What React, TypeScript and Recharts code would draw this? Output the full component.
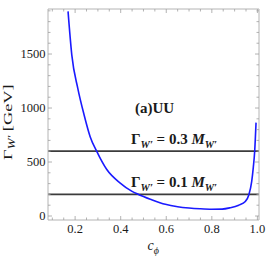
import React from 'react';
import { LineChart, Line, XAxis, YAxis, ReferenceLine, Label } from 'recharts';

const cPhi = [0.169, 0.1855, 0.212, 0.239, 0.266, 0.295, 0.339, 0.398, 0.448, 0.478, 0.53, 0.596, 0.65, 0.7, 0.748, 0.8, 0.845, 0.88, 0.918, 0.947, 0.963, 0.975, 0.982, 0.988, 0.994];
const widthGeV = [1895, 1490, 1180, 940, 735, 598, 430, 305, 230, 200, 156, 108, 86, 74, 67, 63, 64, 76, 100, 135, 200, 320, 450, 598, 865];

const thresholdValues = [600, 200];
const thresholdRatios = ['0.3', '0.1'];

const xTicks = [0.1, 0.15, 0.2, 0.25, 0.3, 0.35, 0.4, 0.45, 0.5, 0.55, 0.6, 0.65, 0.7, 0.75, 0.8, 0.85, 0.9, 0.95, 1.0];
const xMajor = [0.2, 0.4, 0.6, 0.8, 1.0];
const yTicks = [0, 100, 200, 300, 400, 500, 600, 700, 800, 900, 1000, 1100, 1200, 1300, 1400, 1500, 1600, 1700, 1800, 1900];
const yMajor = [0, 500, 1000, 1500];

const data = cPhi.map((c, i) => ({ c, g: widthGeV[i] }));

const X_DOMAIN = [0.081, 1.007];
const Y_DOMAIN = [-37, 1917];

const FONT = "'Liberation Serif', 'Times New Roman', serif";
const FRAME = '#b4b4b4';
const TICK = '#a0a0a0';
const TEXT = '#1a1a1a';

const isMajor = (v: number, list: number[]) => list.some((m) => Math.abs(m - v) < 1e-6);

const BottomTick = (p: any) => {
  const major = isMajor(p.payload.value, xMajor);
  return (
    <g>
      <line x1={p.x} x2={p.x} y1={p.y} y2={p.y - (major ? 4 : 2.5)} stroke={TICK} strokeWidth={0.8} />
      {major && (
        <text x={p.x} y={p.y + 12.5} textAnchor="middle" style={{ fontFamily: FONT, fontSize: 12.5 }} fill={TEXT}>
          {p.payload.value.toFixed(1)}
        </text>
      )}
    </g>
  );
};

const TopTick = (p: any) => {
  const major = isMajor(p.payload.value, xMajor);
  return <line x1={p.x} x2={p.x} y1={p.y} y2={p.y + (major ? 4 : 2.5)} stroke={TICK} strokeWidth={0.8} />;
};

const LeftTick = (p: any) => {
  const major = isMajor(p.payload.value, yMajor);
  return (
    <g>
      <line x1={p.x} x2={p.x + (major ? 4 : 2.5)} y1={p.y} y2={p.y} stroke={TICK} strokeWidth={0.8} />
      {major && (
        <text x={p.x - 2.5} y={p.y} dy="0.33em" textAnchor="end" style={{ fontFamily: FONT, fontSize: 12.5 }} fill={TEXT}>
          {p.payload.value}
        </text>
      )}
    </g>
  );
};

const RightTick = (p: any) => {
  const major = isMajor(p.payload.value, yMajor);
  return <line x1={p.x} x2={p.x - (major ? 4 : 2.5)} y1={p.y} y2={p.y} stroke={TICK} strokeWidth={0.8} />;
};

const thresholdLabel = (ratio: string) => (props: any) => {
  const vb = props.viewBox;
  return (
    <text x={vb.x + 83} y={vb.y - 7} style={{ fontFamily: FONT, fontSize: 15, fontWeight: 'bold' }} fill={TEXT}>
      <tspan>Γ</tspan>
      <tspan dy={4} fontSize={10.5} fontStyle="italic">W′</tspan>
      <tspan dy={-4}>{` = ${ratio} `}</tspan>
      <tspan fontStyle="italic">M</tspan>
      <tspan dy={4} fontSize={10.5} fontStyle="italic">W′</tspan>
    </text>
  );
};

const XLabel = (props: any) => {
  const vb = props.viewBox;
  return (
    <text x={vb.x + 99.5} y={vb.y + 30} style={{ fontFamily: FONT, fontSize: 14, fontStyle: 'italic' }} fill={TEXT}>
      <tspan>c</tspan>
      <tspan dy={3.5} fontSize={10}>ϕ</tspan>
    </text>
  );
};

const YLabel = (props: any) => {
  const vb = props.viewBox;
  const x = 11.5;
  const y = vb.y + 151;
  return (
    <g transform={`translate(${x} ${y}) rotate(-90) scale(1.36 1)`}>
      <text x={0} y={0} style={{ fontFamily: FONT, fontSize: 13.5 }} fill={TEXT}>
        <tspan>Γ</tspan>
        <tspan dy={3.5} fontSize={9.5} fontStyle="italic">W′</tspan>
        <tspan dy={-3.5}> [GeV]</tspan>
      </text>
    </g>
  );
};

export default function App() {
  return (
    <div style={{ position: 'absolute', left: 0, top: 0, width: 266, height: 266, background: '#fff' }}>
      <LineChart width={266} height={266} data={data} margin={{ top: 8, right: 6, bottom: 45, left: 47 }}>
        <XAxis
          dataKey="c"
          type="number"
          domain={X_DOMAIN}
          ticks={xTicks}
          interval={0}
          height={1}
          tickSize={0}
          tickMargin={0}
          tickLine={false}
          tick={BottomTick}
          axisLine={{ stroke: FRAME }}
          allowDataOverflow
        >
          <Label content={XLabel} />
        </XAxis>
        <XAxis
          xAxisId="top"
          dataKey="c"
          orientation="top"
          type="number"
          domain={X_DOMAIN}
          ticks={xTicks}
          interval={0}
          height={1}
          tickSize={0}
          tickMargin={0}
          tickLine={false}
          tick={TopTick}
          axisLine={{ stroke: FRAME }}
          allowDataOverflow
        />
        <YAxis
          type="number"
          domain={Y_DOMAIN}
          ticks={yTicks}
          interval={0}
          width={1}
          tickSize={0}
          tickMargin={0}
          tickLine={false}
          tick={LeftTick}
          axisLine={{ stroke: FRAME }}
          allowDataOverflow
        >
          <Label content={YLabel} />
        </YAxis>
        <YAxis
          yAxisId="right"
          dataKey="g"
          orientation="right"
          type="number"
          domain={Y_DOMAIN}
          ticks={yTicks}
          interval={0}
          width={1}
          tickSize={0}
          tickMargin={0}
          tickLine={false}
          tick={RightTick}
          axisLine={{ stroke: FRAME }}
          allowDataOverflow
        />
        {thresholdValues.map((v, i) => (
          <ReferenceLine key={v} y={v} stroke="#3c3c3c" strokeWidth={1.8} label={thresholdLabel(thresholdRatios[i])} />
        ))}
        <Line
          dataKey="g"
          type="monotone"
          stroke="#1a1aff"
          strokeWidth={1.6}
          dot={false}
          isAnimationActive={false}
        />
        <text x={135} y={113} style={{ fontFamily: FONT, fontSize: 15, fontWeight: 'bold' }} fill={TEXT}>
          (a)UU
        </text>
      </LineChart>
    </div>
  );
}
